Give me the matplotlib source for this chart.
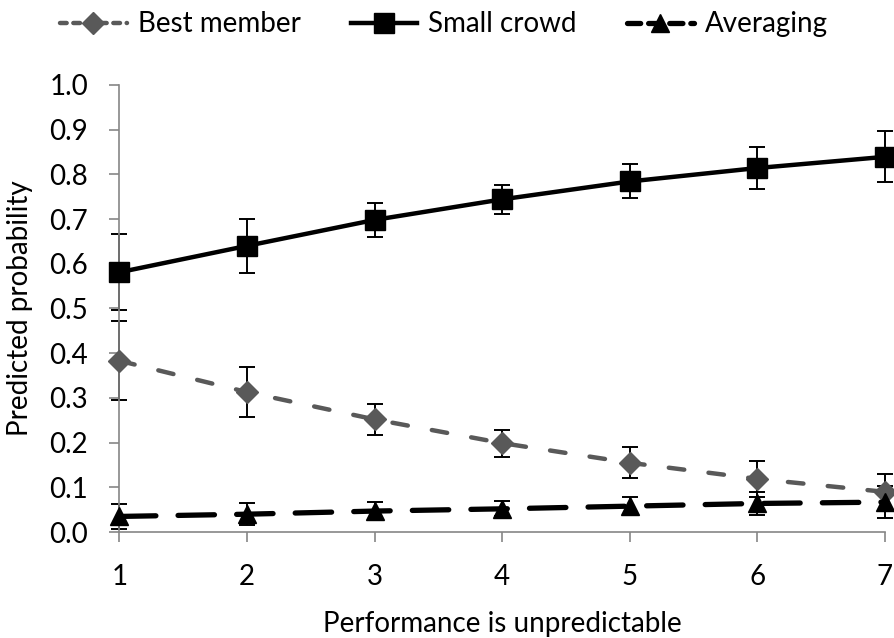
import matplotlib.pyplot as plt
from matplotlib.lines import Line2D

plt.rcParams["font.family"] = ["Lato", "DejaVu Sans"]

x = [1, 2, 3, 4, 5, 6, 7]

best_member = [0.383, 0.313, 0.252, 0.199, 0.155, 0.119, 0.090]
best_member_err = [0.088, 0.056, 0.035, 0.030, 0.035, 0.040, 0.041]

small_crowd = [0.581, 0.640, 0.698, 0.744, 0.784, 0.814, 0.839]
small_crowd_err = [0.085, 0.060, 0.038, 0.032, 0.038, 0.047, 0.057]

averaging = [0.035, 0.040, 0.047, 0.052, 0.058, 0.064, 0.067]
averaging_err = [0.028, 0.025, 0.020, 0.017, 0.020, 0.026, 0.035]

ytick_labels = ["0.0", "0.1", "0.2", "0.3", "0.4", "0.5", "0.6", "0.7", "0.8", "0.9", "1.0"]

GREY = "#595959"
AXIS = "#868686"


def main():
    fig = plt.figure(figsize=(8.95, 6.38), dpi=100)
    ax = fig.add_axes([0.1335, 0.166, 0.855, 0.701])

    err_kw = dict(fmt="none", ecolor="black", elinewidth=1.4, capsize=5.5,
                  capthick=1.4, zorder=2, clip_on=False)
    ax.errorbar(x, best_member, yerr=best_member_err, **err_kw)
    ax.errorbar(x, small_crowd, yerr=small_crowd_err, **err_kw)
    ax.errorbar(x, averaging, yerr=averaging_err, **err_kw)

    ax.plot(x, best_member, color=GREY, lw=3.2, ls=(0, (3.5, 5.5)),
            dash_capstyle="round", marker="D", ms=11, mec=GREY, mfc=GREY,
            zorder=3, clip_on=False)
    ax.plot(x, small_crowd, color="black", lw=3.2, ls="-",
            marker="s", ms=14, zorder=3, clip_on=False)
    ax.plot(x, averaging, color="black", lw=3.8, ls=(0, (6.9, 4.2)),
            dash_capstyle="round", marker="^", ms=13, zorder=3,
            clip_on=False)

    ax.set_xlim(1, 7)
    ax.set_ylim(0, 1.0)
    ax.set_xticks(x)
    ax.set_yticks([i / 10 for i in range(11)])
    ax.set_yticklabels(ytick_labels)

    for side in ["top", "right"]:
        ax.spines[side].set_visible(False)
    for side in ["left", "bottom"]:
        ax.spines[side].set_color(AXIS)
        ax.spines[side].set_linewidth(1.2)
    ax.tick_params(axis="both", direction="out", length=7.2, width=1.2,
                   color=AXIS, labelsize=20)
    ax.tick_params(axis="y", pad=15.5)
    ax.tick_params(axis="x", pad=16)

    ax.set_ylabel("Predicted probability", fontsize=20)
    ax.set_xlabel("Performance is unpredictable", fontsize=20, va="top")
    ax.yaxis.set_label_coords(-0.113, 0.5)
    ax.xaxis.set_label_coords(0.5, -0.177)

    handles = [
        Line2D([], [], color=GREY, lw=3.2, ls=(0, (1.5, 1.5)),
               dash_capstyle="round", marker="D", ms=11, mec=GREY, mfc=GREY),
        Line2D([], [], color="black", lw=3.2, marker="s", ms=14),
        Line2D([], [], color="black", lw=3.8, ls=(0, (2.5, 1.5)),
               dash_capstyle="round", marker="^", ms=13),
    ]
    fig.legend(handles, ["Best member", "Small crowd", "Averaging"],
               loc="center left", bbox_to_anchor=(0.067, 0.962), ncol=3,
               frameon=False, fontsize=20, handlelength=2.4,
               handletextpad=0.4, columnspacing=1.8,
               borderpad=0, borderaxespad=0)

    fig.savefig("out.png", dpi=100)


if __name__ == "__main__":
    main()
